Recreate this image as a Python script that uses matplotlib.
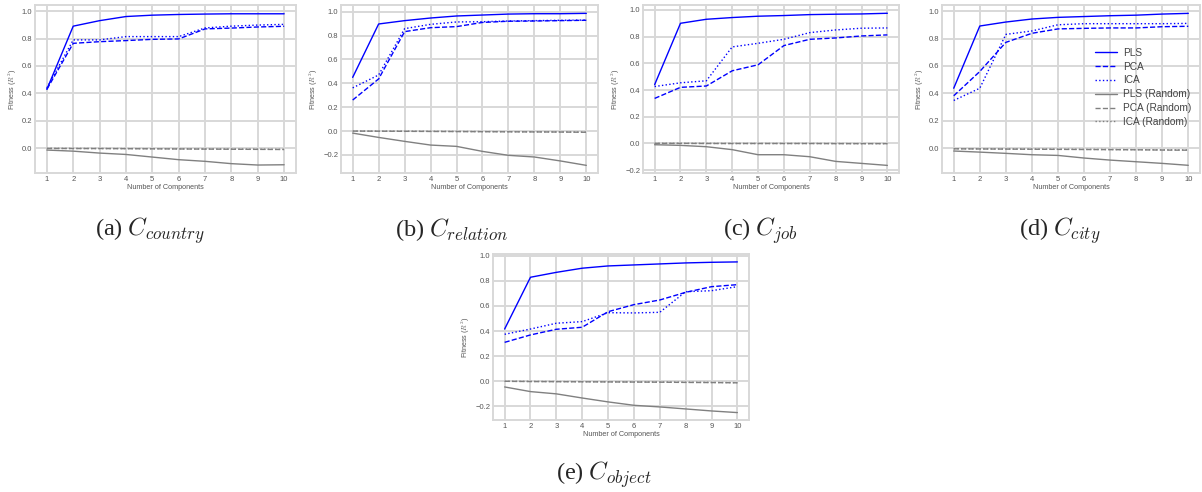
import numpy as np
import matplotlib
matplotlib.use('Agg')
import matplotlib.pyplot as plt

plt.style.use('seaborn-v0_8-whitegrid')
plt.rcParams['font.family'] = ['Liberation Sans', 'DejaVu Sans']
plt.rcParams['mathtext.fontset'] = 'cm'
plt.rcParams['grid.color'] = '#d8d8d8'
plt.rcParams['grid.linewidth'] = 1.4
plt.rcParams['axes.edgecolor'] = '#d8d8d8'
plt.rcParams['axes.linewidth'] = 1.4

# 成分数
n_comp = [1, 2, 3, 4, 5, 6, 7, 8, 9, 10]

# (a) country
pls_a = [0.43, 0.89, 0.93, 0.96, 0.97, 0.975, 0.978, 0.98, 0.98, 0.98]
pca_a = [0.43, 0.765, 0.777, 0.785, 0.794, 0.797, 0.87, 0.876, 0.884, 0.889]
ica_a = [0.44, 0.79, 0.79, 0.814, 0.814, 0.814, 0.877, 0.89, 0.898, 0.903]
plsr_a = [-0.012, -0.02, -0.034, -0.044, -0.063, -0.082, -0.094, -0.111, -0.121, -0.119]
pcar_a = [0.0, -0.001, -0.001, -0.002, -0.003, -0.004, -0.005, -0.006, -0.007, -0.008]
icar_a = [0.0, 0.0, -0.001, -0.001, -0.002, -0.003, -0.004, -0.005, -0.006, -0.007]

# (b) relation
pls_b = [0.45, 0.897, 0.925, 0.947, 0.964, 0.972, 0.98, 0.983, 0.983, 0.986]
pca_b = [0.26, 0.437, 0.833, 0.866, 0.875, 0.91, 0.92, 0.922, 0.925, 0.928]
ica_b = [0.362, 0.47, 0.858, 0.894, 0.914, 0.916, 0.922, 0.925, 0.928, 0.93]
plsr_b = [-0.017, -0.053, -0.086, -0.117, -0.128, -0.17, -0.203, -0.217, -0.25, -0.287]
pcar_b = [0.0, -0.001, -0.002, -0.003, -0.004, -0.005, -0.006, -0.007, -0.008, -0.01]
icar_b = [0.0, -0.001, -0.001, -0.002, -0.003, -0.004, -0.005, -0.006, -0.007, -0.009]

# (c) job
pls_c = [0.44, 0.9, 0.93, 0.943, 0.953, 0.958, 0.965, 0.968, 0.97, 0.975]
pca_c = [0.337, 0.42, 0.43, 0.544, 0.589, 0.733, 0.78, 0.79, 0.805, 0.813]
ica_c = [0.426, 0.454, 0.469, 0.723, 0.75, 0.78, 0.83, 0.85, 0.863, 0.865]
plsr_c = [-0.01, -0.015, -0.025, -0.047, -0.085, -0.085, -0.1, -0.135, -0.15, -0.165]
pcar_c = [0.0, 0.0, -0.001, -0.001, -0.001, -0.001, -0.001, -0.002, -0.002, -0.002]
icar_c = [0.0, 0.0, 0.0, -0.001, -0.001, -0.001, -0.001, -0.001, -0.002, -0.002]

# (d) city
pls_d = [0.438, 0.891, 0.92, 0.942, 0.954, 0.96, 0.966, 0.97, 0.978, 0.983]
pca_d = [0.383, 0.56, 0.772, 0.838, 0.87, 0.874, 0.877, 0.877, 0.886, 0.889]
ica_d = [0.349, 0.438, 0.83, 0.855, 0.9, 0.908, 0.908, 0.908, 0.908, 0.91]
plsr_d = [-0.019, -0.027, -0.036, -0.046, -0.051, -0.07, -0.085, -0.097, -0.109, -0.123]
pcar_d = [-0.003, -0.004, -0.005, -0.006, -0.007, -0.008, -0.009, -0.010, -0.012, -0.013]
icar_d = [-0.002, -0.003, -0.004, -0.005, -0.006, -0.007, -0.008, -0.009, -0.010, -0.011]

# (e) object
pls_e = [0.416, 0.828, 0.867, 0.9, 0.918, 0.926, 0.934, 0.942, 0.947, 0.95]
pca_e = [0.31, 0.369, 0.414, 0.43, 0.554, 0.61, 0.647, 0.708, 0.753, 0.769]
ica_e = [0.374, 0.416, 0.462, 0.475, 0.546, 0.544, 0.549, 0.713, 0.721, 0.753]
plsr_e = [-0.045, -0.082, -0.1, -0.133, -0.164, -0.191, -0.204, -0.22, -0.236, -0.249]
pcar_e = [0.0, -0.002, -0.003, -0.004, -0.005, -0.006, -0.007, -0.009, -0.010, -0.012]
icar_e = [0.0, -0.001, -0.002, -0.003, -0.004, -0.005, -0.006, -0.008, -0.009, -0.011]

captions = [r'(a) $C_{country}$', r'(b) $C_{relation}$', r'(c) $C_{job}$',
            r'(d) $C_{city}$', r'(e) $C_{object}$']
ylims = [(-0.179, 1.044), (-0.351, 1.056), (-0.222, 1.037), (-0.179, 1.044), (-0.308, 1.013)]

data = [
    (pls_a, pca_a, ica_a, plsr_a, pcar_a, icar_a),
    (pls_b, pca_b, ica_b, plsr_b, pcar_b, icar_b),
    (pls_c, pca_c, ica_c, plsr_c, pcar_c, icar_c),
    (pls_d, pca_d, ica_d, plsr_d, pcar_d, icar_d),
    (pls_e, pca_e, ica_e, plsr_e, pcar_e, icar_e),
]

# 子图位置 (像素)
boxes = [(35, 5, 261, 168), (341, 5, 257, 168), (643, 5, 256, 168),
         (942, 5, 258, 168), (493, 254, 256, 166)]
cap_pos = [(150, 236), (452, 236), (760, 236), (1060, 236), (604, 480)]

W, H = 1202, 492
fig = plt.figure(figsize=(W / 100, H / 100), dpi=100)

names = ['PLS', 'PCA', 'ICA', 'PLS (Random)', 'PCA (Random)', 'ICA (Random)']
colors = ['#0000ff', '#0000ff', '#0000ff', 'gray', 'gray', 'gray']
styles = ['-', '--', ':', '-', '--', ':']

for k in range(5):
    x0, y0, w, h = boxes[k]
    ax = fig.add_axes([x0 / W, 1 - (y0 + h) / H, w / W, h / H])
    for s in range(6):
        ax.plot(n_comp, data[k][s], color=colors[s], linestyle=styles[s],
                linewidth=1.0, label=names[s])
    ax.set_xticks(n_comp)
    ax.set_ylim(ylims[k])
    ax.tick_params(labelsize=5.5, pad=2, colors='#555555')
    ax.set_xlabel('Number of Components', fontsize=5.2, labelpad=1, color='#555555')
    ax.set_ylabel('Fitness ($R^2$)', fontsize=5.2, labelpad=2, color='#555555')
    if k == 3:
        ax.legend(loc='upper right', bbox_to_anchor=(1.0, 0.8), fontsize=7.3,
                  frameon=False, handlelength=2.1, labelspacing=0.38,
                  handletextpad=0.6, labelcolor='#444444')
    fig.text(cap_pos[k][0] / W, 1 - cap_pos[k][1] / H, captions[k],
             ha='center', va='baseline', fontsize=17.5, family='Liberation Serif')

fig.savefig('out.png', dpi=100)
